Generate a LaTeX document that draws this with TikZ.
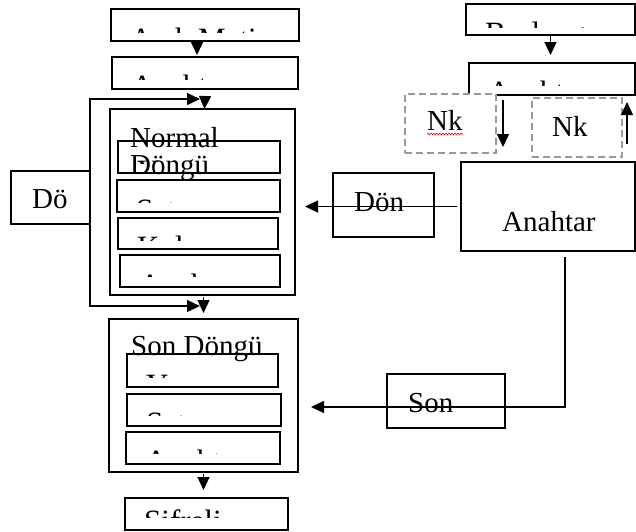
\documentclass[tikz,border=0pt]{standalone}
\usepackage{fontspec}
\setmainfont{Liberation Serif}
\usetikzlibrary{arrows.meta,calc,decorations.pathmorphing}
\newcommand\bigf{\fontsize{29}{27}\selectfont}
\newcommand\clipf{\fontsize{31}{31}\selectfont}
\tikzset{
  bx/.style={draw=black, line width=1.5pt, rectangle, inner sep=0pt, outer sep=0pt, anchor=north west},
  nkbox/.style={bx, draw=black!40, fill=white, dash pattern=on 7pt off 4pt, line width=1.7pt},
  con/.style={line width=1.3pt, -{Triangle[width=12pt,length=13pt]}},
  lbl/.style={font=\bigf, inner sep=0pt, anchor=base west},
}
% #1 box, #2 text, #3 baseline offset, #4 visible height
\newcommand\cliptxt[4]{%
  \begin{scope}
    \clip (#1.north west) rectangle ([yshift=-#4pt]#1.north east);
    \node[lbl, font=\clipf] (#1t) at ([xshift=19pt,yshift=-#3pt]#1.north west) {#2};
  \end{scope}}
\begin{document}
\begin{tikzpicture}[x=1pt,y=-1pt]
\useasboundingbox (0,0) rectangle (636,531);
\clip (0,0) rectangle (636,531);

% left column
\node[bx, minimum width=188pt, minimum height=32pt] (b1) at (111,9) {};
\node[bx, minimum width=186pt, minimum height=32pt] (b2) at (112,57) {};
\node[bx, minimum width=185pt, minimum height=186pt] (norm) at (110,109) {};
\node[bx, minimum width=162pt, minimum height=32pt] (i1) at (118,141) {};
\node[bx, minimum width=163pt, minimum height=32pt] (i2) at (117,180) {};
\node[bx, minimum width=160pt, minimum height=31pt] (i3) at (118,218) {};
\node[bx, minimum width=160pt, minimum height=32pt] (i4) at (120,255) {};
\node[bx, minimum width=79pt, minimum height=53pt] (do) at (11,171) {};
\node[bx, minimum width=189pt, minimum height=153pt] (son) at (109,319) {};
\node[bx, minimum width=151pt, minimum height=33pt] (s1) at (127,354) {};
\node[bx, minimum width=154pt, minimum height=32pt] (s2) at (127,394) {};
\node[bx, minimum width=154pt, minimum height=32pt] (s3) at (126,432) {};
\node[bx, minimum width=163pt, minimum height=32pt] (sif) at (125,498) {};

% right column
\node[bx, minimum width=169pt, minimum height=31pt] (r1) at (466,4) {};
\node[bx, minimum width=166pt, minimum height=32pt] (r2) at (469,63) {};
\node[nkbox, minimum width=91pt, minimum height=59pt] (nk1) at (405,94) {};
\node[nkbox, minimum width=90pt, minimum height=59pt] (nk2) at (532,98) {};
\node[bx, minimum width=174pt, minimum height=89pt] (anah) at (461,162) {};
\node[bx, minimum width=101pt, minimum height=64pt] (don) at (333,173) {};
\node[bx, minimum width=118pt, minimum height=54pt] (sonk) at (387,374) {};

% clipped texts (only the tops of the letters show)
\cliptxt{b1}{Açık Metin}{40}{23}
\cliptxt{b2}{Anahtar}{39}{22}
\cliptxt{i1}{Yer}{40}{22}
\cliptxt{i2}{Satır}{40}{22}
\cliptxt{i3}{Kolon}{39}{22}
\cliptxt{i4}{Anahtar}{40}{21}
\cliptxt{s1}{Yer}{41}{23}
\cliptxt{s2}{Satır}{39}{21}
\cliptxt{s3}{Anahtar}{39}{21}
\cliptxt{sif}{Şifreli}{33}{19}
\cliptxt{r1}{Başlangıç}{39}{23}
\cliptxt{r2}{Anahtar}{39}{22}

% full texts
\node[lbl] (normt) at (130,147) {\parbox[t]{120pt}{\raggedright Normal\\Döngü}};
\node[lbl] (sont) at (131,355) {Son Döngü};
\node[lbl] (dot) at (32,208) {Dö};
\node[lbl] (dont) at (354,211) {Dön};
\node[lbl] (sonkt) at (408,412) {Son};
\node[lbl] (anaht) at (502,231) {Anahtar};
\node[lbl] (nk1t) at (427,130) {Nk};
\node[lbl] (nk2t) at (552,136) {Nk};
\draw[red, line width=0.6pt, decorate, decoration={snake, amplitude=0.9pt, segment length=3pt}]
  ($(nk1t.base west)+(0,4)$) -- ($(nk1t.base east)+(0,4)$);

% coordinates
\coordinate (loopT) at (90,99);
\coordinate (loopTe) at (200,99);
\coordinate (loopB) at (90,306);
\coordinate (loopBe) at (200,306);
\coordinate (dnS) at (503,100);
\coordinate (dnE) at (503,147);
\coordinate (upS) at (627,144);
\coordinate (upE) at (627,102);
\coordinate (donTip) at (305,206.5);
\coordinate (kS) at (565,257);
\coordinate (kC) at (565,407);
\coordinate (sonTip) at (311,407);

% connectors
\draw[con] ([xshift=-8pt]b1.south) -- ([xshift=-8pt,yshift=2pt]b2.north);
\draw[con] ([yshift=-8pt]b2.south) -- ([xshift=2pt]norm.north);
\draw[con] ([yshift=-2pt,xshift=1pt]norm.south) -- ([yshift=6pt]son.north);
\draw[con] ([yshift=-2pt]son.south) -- ([yshift=8pt,xshift=-3pt]sif.north);
\draw[con] (do.north east) -- (loopT) -- (loopTe);
\draw[con] (do.south east) -- (loopB) -- (loopBe);
\draw[con] (r1.south) -- ([yshift=8pt]r2.north -| r1.south);
\draw[con] (dnS) -- (dnE);
\draw[con] (upS) -- (upE);
\draw[con] ([xshift=-4pt]anah.west) -- (donTip);
\draw[con] (kS) -- (kC) -- (sonTip);
\end{tikzpicture}
\end{document}
